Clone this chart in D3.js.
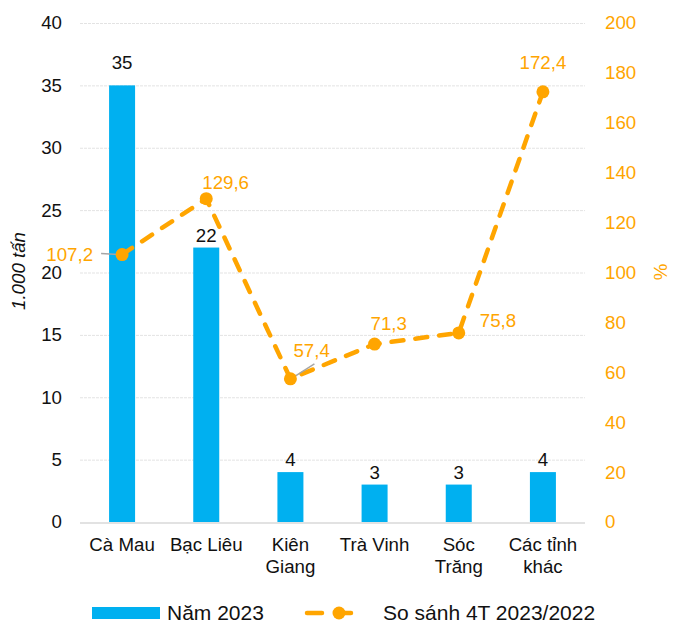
<!DOCTYPE html>
<html>
<head>
<meta charset="utf-8">
<title>Nam 2023 vs 4T 2023/2022</title>
<script src="https://cdn.jsdelivr.net/npm/d3@7"></script>
<style>
    body { margin: 0; background: #fff; }
    text { font-family: "Liberation Sans", Arial, sans-serif; font-size: 18.7px; }
</style>
</head>
<body>
<script>
    // data
    var provinces = [['Cà Mau'], ['Bạc Liêu'], ['Kiên', 'Giang'], ['Trà Vinh'], ['Sóc', 'Trăng'], ['Các tỉnh', 'khác']];
    var tons = [35, 22, 4, 3, 3, 4];
    var ratio = [107.2, 129.6, 57.4, 71.3, 75.8, 172.4];
    var leftTicks = [0, 5, 10, 15, 20, 25, 30, 35, 40];
    var rightTicks = [0, 20, 40, 60, 80, 100, 120, 140, 160, 180, 200];

    // where each line label sits relative to its point
    var lblPos = [
        {dx: -29, dy: 6, anchor: 'end', lead: [-21, -1, -4, 0]},
        {dx: -4, dy: -10, anchor: 'start'},
        {dx: 3, dy: -22, anchor: 'start', lead: [2, -1, 24, -15]},
        {dx: -4, dy: -14, anchor: 'start'},
        {dx: 21, dy: -6, anchor: 'start'},
        {dx: 0, dy: -23, anchor: 'middle'}
    ];

    var blue = '#00b0f0', orange = '#ffa500';
    var W = 673, H = 621;
    var pLeft = 80, pRight = 585, pTop = 23, pBottom = 522;
    var font = '"Liberation Sans", Arial, sans-serif';

    var svg = d3.select('body').append('svg')
        .attr('width', W)
        .attr('height', H);

    var x = d3.scaleBand()
        .domain(d3.range(provinces.length))
        .range([pLeft, pRight]);

    var y = d3.scaleLinear().domain([0, 40]).range([pBottom, pTop]);
    var y2 = d3.scaleLinear().domain([0, 200]).range([pBottom, pTop]);

    var cx = function(d, i) { return x(i) + x.bandwidth() / 2; };

    // gridlines
    svg.append('g').selectAll('line')
        .data(leftTicks.filter(function(d) { return d > 0; })).enter()
        .append('line')
        .attr('x1', pLeft).attr('x2', pRight)
        .attr('y1', function(d) { return y(d) + 0.5; })
        .attr('y2', function(d) { return y(d) + 0.5; })
        .style('stroke', '#e3e3e3')
        .style('stroke-dasharray', '3,1');

    // left axis
    var yax = d3.axisLeft(y).tickValues(leftTicks).tickSize(0).tickPadding(18);
    var gl = svg.append('g')
        .attr('transform', 'translate(' + pLeft + ',0)')
        .call(yax);
    gl.select('.domain').remove();
    gl.selectAll('text')
        .style('font-size', '18.7px')
        .style('font-family', font)
        .style('fill', '#111');

    // right axis
    var yax2 = d3.axisRight(y2).tickValues(rightTicks).tickSize(0).tickPadding(20);
    var gr = svg.append('g')
        .attr('transform', 'translate(' + pRight + ',0)')
        .call(yax2);
    gr.select('.domain').remove();
    gr.selectAll('text')
        .style('font-size', '18.7px')
        .style('font-family', font)
        .style('fill', orange);

    // axis titles
    svg.append('text')
        .text('1.000 tấn')
        .attr('transform', 'translate(25,271) rotate(-90)')
        .attr('text-anchor', 'middle')
        .style('font-style', 'italic')
        .style('fill', '#111');

    svg.append('text')
        .text('%')
        .attr('transform', 'translate(667,272) rotate(-90)')
        .attr('text-anchor', 'middle')
        .style('fill', orange);

    // bars
    var bw = 26;
    svg.append('g').selectAll('rect')
        .data(tons).enter()
        .append('rect')
        .attr('x', function(d, i) { return cx(d, i) - bw / 2; })
        .attr('y', function(d) { return y(d); })
        .attr('width', bw)
        .attr('height', function(d) { return pBottom - y(d); })
        .style('fill', blue);

    svg.append('g').selectAll('text')
        .data(tons).enter()
        .append('text')
        .attr('x', cx)
        .attr('y', function(d) { return y(d) - (d > 30 ? 16 : 6); })
        .attr('text-anchor', 'middle')
        .style('fill', '#111')
        .text(function(d) { return d; });

    // baseline
    svg.append('line')
        .attr('x1', pLeft).attr('x2', pRight)
        .attr('y1', pBottom + 1).attr('y2', pBottom + 1)
        .style('stroke', '#d9d9d9')
        .style('stroke-width', 1.5);

    // x labels
    var xl = svg.append('g').selectAll('text')
        .data(provinces).enter()
        .append('text')
        .attr('x', cx)
        .attr('y', 551)
        .attr('text-anchor', 'middle')
        .style('fill', '#111');
    xl.each(function(d, i) {
        var t = d3.select(this);
        d.forEach(function(s, j) {
            t.append('tspan')
                .attr('x', cx(d, i))
                .attr('dy', j ? 22 : 0)
                .text(s);
        });
    });

    // line
    var line = d3.line()
        .x(cx)
        .y(function(d) { return y2(d); });

    svg.append('path')
        .datum(ratio)
        .attr('d', line)
        .style('fill', 'none')
        .style('stroke', orange)
        .style('stroke-width', 4.5)
        .style('stroke-linecap', 'round')
        .style('stroke-dasharray', '12,12');

    // leader lines
    var leads = ratio.map(function(d, i) { return {v: d, i: i, p: lblPos[i]}; })
        .filter(function(o) { return o.p.lead; });
    svg.append('g').selectAll('line')
        .data(leads).enter()
        .append('line')
        .attr('x1', function(o) { return cx(o.v, o.i) + o.p.lead[0]; })
        .attr('y1', function(o) { return y2(o.v) + o.p.lead[1]; })
        .attr('x2', function(o) { return cx(o.v, o.i) + o.p.lead[2]; })
        .attr('y2', function(o) { return y2(o.v) + o.p.lead[3]; })
        .style('stroke', '#a6a6a6')
        .style('stroke-width', 1.5);

    svg.append('g').selectAll('circle')
        .data(ratio).enter()
        .append('circle')
        .attr('cx', cx)
        .attr('cy', function(d) { return y2(d); })
        .attr('r', 6.5)
        .style('fill', orange);

    svg.append('g').selectAll('text')
        .data(ratio).enter()
        .append('text')
        .attr('x', function(d, i) { return cx(d, i) + lblPos[i].dx; })
        .attr('y', function(d, i) { return y2(d) + lblPos[i].dy; })
        .attr('text-anchor', function(d, i) { return lblPos[i].anchor; })
        .style('fill', orange)
        .text(function(d) { return d3.format('.1f')(d).replace('.', ','); });

    // legend
    var lg = svg.append('g');
    lg.append('rect')
        .attr('x', 92).attr('y', 607)
        .attr('width', 68).attr('height', 12)
        .style('fill', blue);
    lg.append('text')
        .attr('x', 167).attr('y', 620)
        .style('font-size', '21px')
        .style('fill', '#111')
        .text('Năm 2023');
    lg.append('line')
        .attr('x1', 307).attr('x2', 355)
        .attr('y1', 613).attr('y2', 613)
        .style('stroke', orange)
        .style('stroke-width', 4.5)
        .style('stroke-linecap', 'round')
        .style('stroke-dasharray', '15,14');
    lg.append('circle')
        .attr('cx', 339).attr('cy', 613)
        .attr('r', 6.5)
        .style('fill', orange);
    lg.append('text')
        .attr('x', 383).attr('y', 620)
        .style('font-size', '21px')
        .style('fill', '#111')
        .text('So sánh 4T 2023/2022');
</script>
</body>
</html>
